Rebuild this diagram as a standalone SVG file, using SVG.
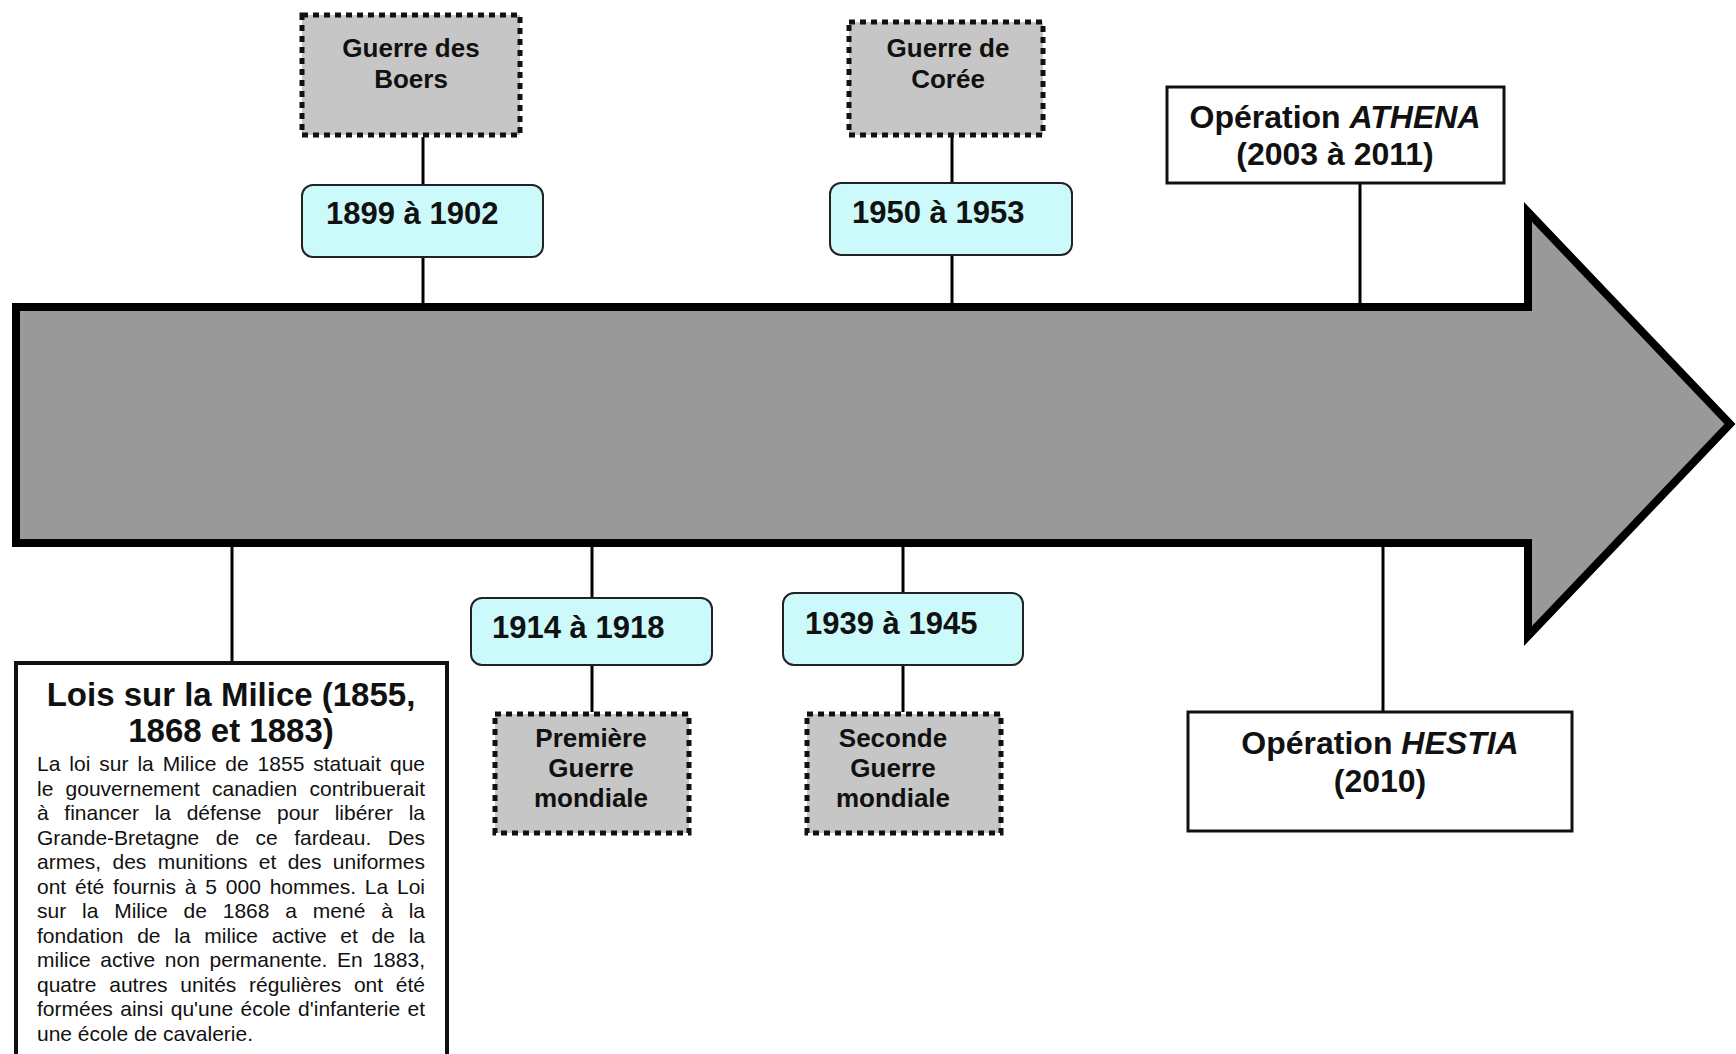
<svg xmlns="http://www.w3.org/2000/svg" width="1736" height="1054" viewBox="0 0 1736 1054">
<style>
.conn{stroke:#000;stroke-width:3;fill:none}
.war{fill:#c6c6c6;stroke:#111;stroke-width:5;stroke-dasharray:6 5}
.date{fill:#ccfafa;stroke:#222;stroke-width:2}
.op{fill:#fff;stroke:#111;stroke-width:3}
.t{font-family:"Liberation Sans",Arial,sans-serif;font-weight:bold;fill:#111}
.wt{font-size:26px;text-anchor:middle}
.dt{font-size:31px}
.ot{font-size:32px;text-anchor:middle}
.body{font-family:"Liberation Sans",Arial,sans-serif;font-size:21px;fill:#111}
</style>
<rect width="1736" height="1054" fill="#fff"/>
<g id="connectors">
<line class="conn" x1="423" y1="137" x2="423" y2="305"/>
<line class="conn" x1="952" y1="136" x2="952" y2="305"/>
<line class="conn" x1="1360" y1="182" x2="1360" y2="305"/>
<line class="conn" x1="232" y1="545" x2="232" y2="662"/>
<line class="conn" x1="592" y1="545" x2="592" y2="712"/>
<line class="conn" x1="903" y1="545" x2="903" y2="712"/>
<line class="conn" x1="1383" y1="545" x2="1383" y2="712"/>
</g>
<g id="timeline-arrow">
<polygon points="16,307 1528,307 1528,212 1730,424 1528,636 1528,543 16,543" fill="#999999" stroke="#000" stroke-width="8" stroke-linejoin="miter"/>
</g>
<g id="boers">
<rect class="war" x="302" y="15" width="218" height="120"/>
<text class="t wt" x="411" y="57">Guerre des</text>
<text class="t wt" x="411" y="88">Boers</text>
</g>
<g id="d1899">
<rect class="date" x="302" y="185" width="241" height="72" rx="11"/>
<text class="t dt" x="326" y="224">1899 à 1902</text>
</g>
<g id="coree">
<rect class="war" x="849" y="22" width="194" height="113"/>
<text class="t wt" x="948" y="57">Guerre de</text>
<text class="t wt" x="948" y="88">Corée</text>
</g>
<g id="d1950">
<rect class="date" x="830" y="183" width="242" height="72" rx="11"/>
<text class="t dt" x="852" y="223">1950 à 1953</text>
</g>
<g id="athena">
<rect class="op" x="1167" y="87" width="337" height="96"/>
<text class="t ot" x="1335" y="128">Opération <tspan font-style="italic">ATHENA</tspan></text>
<text class="t ot" x="1335" y="165">(2003 à 2011)</text>
</g>
<g id="d1914">
<rect class="date" x="471" y="598" width="241" height="67" rx="11"/>
<text class="t dt" x="492" y="638">1914 à 1918</text>
</g>
<g id="premiere">
<rect class="war" x="495" y="714" width="194" height="119"/>
<text class="t wt" x="591" y="747">Première</text>
<text class="t wt" x="591" y="777">Guerre</text>
<text class="t wt" x="591" y="807">mondiale</text>
</g>
<g id="d1939">
<rect class="date" x="783" y="593" width="240" height="72" rx="11"/>
<text class="t dt" x="805" y="634">1939 à 1945</text>
</g>
<g id="seconde">
<rect class="war" x="807" y="714" width="194" height="119"/>
<text class="t wt" x="893" y="747">Seconde</text>
<text class="t wt" x="893" y="777">Guerre</text>
<text class="t wt" x="893" y="807">mondiale</text>
</g>
<g id="hestia">
<rect class="op" x="1188" y="712" width="384" height="119"/>
<text class="t ot" x="1380" y="754">Opération <tspan font-style="italic">HESTIA</tspan></text>
<text class="t ot" x="1380" y="792">(2010)</text>
</g>
<g id="lois">
<rect x="16" y="663" width="431" height="400" fill="#fff" stroke="#111" stroke-width="4"/>
<text class="t" font-size="33" text-anchor="middle" x="231" y="706">Lois sur la Milice (1855,</text>
<text class="t" font-size="33" text-anchor="middle" x="231" y="742">1868 et 1883)</text>
<g class="body">
<text x="37" y="771" word-spacing="3.1" textLength="388" lengthAdjust="spacing">La loi sur la Milice de 1855 statuait que</text>
<text x="37" y="795.5" word-spacing="6.4" textLength="388" lengthAdjust="spacing">le gouvernement canadien contribuerait</text>
<text x="37" y="820" word-spacing="9.8" textLength="388" lengthAdjust="spacing">à financer la défense pour libérer la</text>
<text x="37" y="844.5" word-spacing="10.6" textLength="388" lengthAdjust="spacing">Grande-Bretagne de ce fardeau. Des</text>
<text x="37" y="869" word-spacing="5.5" textLength="388" lengthAdjust="spacing">armes, des munitions et des uniformes</text>
<text x="37" y="893.5" word-spacing="3" textLength="388" lengthAdjust="spacing">ont été fournis à 5 000 hommes. La Loi</text>
<text x="37" y="918" word-spacing="10" textLength="388" lengthAdjust="spacing">sur la Milice de 1868 a mené à la</text>
<text x="37" y="942.5" word-spacing="7.9" textLength="388" lengthAdjust="spacing">fondation de la milice active et de la</text>
<text x="37" y="967" word-spacing="3.8" textLength="388" lengthAdjust="spacing">milice active non permanente. En 1883,</text>
<text x="37" y="991.5" word-spacing="6.9" textLength="388" lengthAdjust="spacing">quatre autres unités régulières ont été</text>
<text x="37" y="1016" word-spacing="1.5" textLength="388" lengthAdjust="spacing">formées ainsi qu'une école d'infanterie et</text>
<text x="37" y="1040.5">une école de cavalerie.</text>
</g>
</g>
</svg>
